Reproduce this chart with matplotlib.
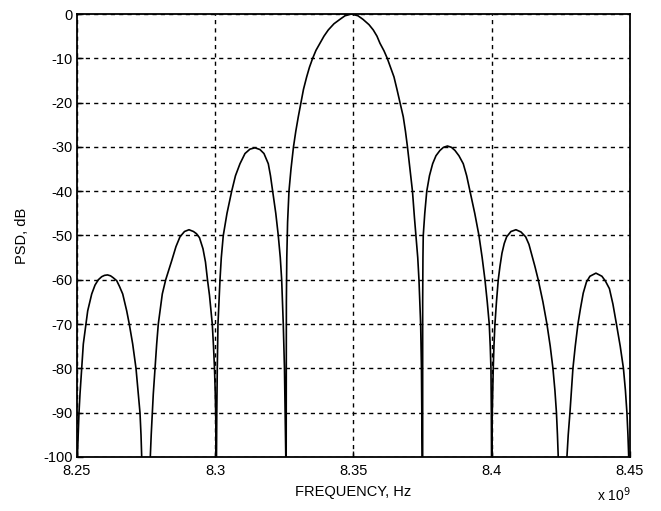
import matplotlib
matplotlib.use("Agg")
import matplotlib.pyplot as plt

# Frequency in units of 1e9 Hz, PSD in dB.
# Values of -130 mark nulls that dive below the visible range.
freq_ghz = [
    # lobe 1
    8.25014, 8.25043, 8.25072, 8.25108, 8.25170, 8.25228, 8.25325, 8.25387,
    8.25532, 8.25651, 8.25770, 8.25893, 8.25995, 8.26103, 8.26212, 8.26302,
    8.26436, 8.26537, 8.26653, 8.26797, 8.26891, 8.27014, 8.27134, 8.27217,
    8.27278, 8.27315, 8.27340,
    8.27500,
    # lobe 2
    8.27651, 8.27684, 8.27723, 8.27759, 8.27821, 8.27882, 8.27940, 8.28085,
    8.28208, 8.28425, 8.28580, 8.28725, 8.28888, 8.29051, 8.29213, 8.29322,
    8.29430, 8.29557, 8.29647, 8.29720, 8.29792, 8.29846, 8.29893, 8.29937,
    8.29973, 8.29998, 8.30016, 8.30027, 8.30034,
    8.30040,
    # lobe 3
    8.30045, 8.30056, 8.30074, 8.30099, 8.30172, 8.30219, 8.30291, 8.30425,
    8.30595, 8.30732, 8.30895, 8.31076, 8.31257, 8.31438, 8.31618, 8.31763,
    8.31919, 8.31998, 8.32078, 8.32190, 8.32280, 8.32353, 8.32403, 8.32461,
    8.32504, 8.32530, 8.32552,
    8.32559,
    # main lobe
    8.32566, 8.32567, 8.32573, 8.32588, 8.32617, 8.32667, 8.32740, 8.32830,
    8.32913, 8.33004, 8.33101, 8.33192, 8.33307, 8.33409, 8.33524, 8.33644,
    8.33788, 8.33933, 8.34089, 8.34295, 8.34512, 8.34693, 8.34928, 8.35163,
    8.35343, 8.35561, 8.35716, 8.35850, 8.35958, 8.36103, 8.36222, 8.36338,
    8.36465, 8.36573, 8.36682, 8.36801, 8.36881, 8.36953, 8.37043, 8.37134,
    8.37206, 8.37260, 8.37325, 8.37369, 8.37430, 8.37459, 8.37485,
    8.37494,
    # lobe 4
    8.37503, 8.37503, 8.37503, 8.37513, 8.37524, 8.37579, 8.37651, 8.37749,
    8.37864, 8.37984, 8.38128, 8.38255, 8.38400, 8.38544, 8.38671, 8.38815,
    8.38971, 8.39094, 8.39213, 8.39387, 8.39539, 8.39655, 8.39756, 8.39839,
    8.39911, 8.39947, 8.39973, 8.39987, 8.39994,
    8.40000,
    # lobe 5
    8.40005, 8.40020, 8.40056, 8.40081, 8.40117, 8.40172, 8.40237, 8.40298,
    8.40371, 8.40454, 8.40541, 8.40696, 8.40877, 8.41058, 8.41228, 8.41347,
    8.41456, 8.41564, 8.41683, 8.41853, 8.41998, 8.42117, 8.42215, 8.42287,
    8.42342, 8.42378, 8.42407,
    8.42500,
    # lobe 6
    8.42721, 8.42768, 8.42830, 8.42884, 8.42938, 8.43022, 8.43119, 8.43210,
    8.43311, 8.43427, 8.43553, 8.43770, 8.43987, 8.44114, 8.44258, 8.44385,
    8.44512, 8.44649, 8.44765, 8.44837, 8.44891, 8.44928, 8.44956,
]

psd_db = [
    # lobe 1
    -100, -95, -90, -85.8, -80, -74.5, -70, -67,
    -63.2, -61.2, -60, -59.3, -59.0, -58.9, -59.1, -59.5,
    -60.2, -61.5, -63.2, -67, -70, -74.5, -80, -85.8,
    -90, -95, -100,
    -130,
    # lobe 2
    -100, -95, -90, -85.8, -80, -74.5, -70, -63.2,
    -60, -55.7, -52.5, -50.3, -49.1, -48.7, -49.1, -49.6,
    -50.5, -53, -56, -60, -63.5, -67, -70, -75,
    -80, -85, -90, -95, -100,
    -130,
    # lobe 3
    -100, -90, -80, -70, -60, -55, -50, -45,
    -40, -36.5, -33.8, -31.5, -30.5, -30.2, -30.6, -31.5,
    -33.8, -36.5, -40, -45, -50, -55, -60, -70,
    -80, -90, -100,
    -130,
    # main lobe
    -100, -80, -65, -55, -47, -40, -35, -30,
    -26.5, -23.2, -20, -17, -14.2, -12, -10, -8.2,
    -6.6, -5, -3.6, -2.2, -1.2, -0.4, 0.0, -0.4,
    -1.2, -2.4, -3.6, -5, -6.6, -8.3, -10, -12,
    -14.2, -17, -20, -23.2, -26.5, -30, -35, -40,
    -46, -50, -55, -60, -70, -80, -100,
    -130,
    # lobe 4
    -100, -80, -65, -55, -50, -45, -40, -36.5,
    -33.8, -32, -30.8, -30.1, -29.8, -30.1, -30.8, -32,
    -33.8, -36.5, -40, -45, -50, -55, -60, -65,
    -70, -75, -80, -90, -100,
    -130,
    # lobe 5
    -100, -90, -80, -75, -70, -65, -60, -57,
    -54, -51.8, -50.3, -49.1, -48.7, -49.2, -50.3, -52,
    -54.5, -57, -60, -65, -70, -75, -80, -85,
    -90, -95, -100,
    -130,
    # lobe 6
    -100, -95, -90, -85, -80, -75, -70, -66.5,
    -63, -60.5, -59.2, -58.5, -59.2, -60.3, -62, -65.5,
    -70, -75, -80, -85, -90, -95, -100,
]

x_ticks = [8.25, 8.3, 8.35, 8.4, 8.45]
x_tick_labels = ["8.25", "8.3", "8.35", "8.4", "8.45"]
y_ticks = [0, -10, -20, -30, -40, -50, -60, -70, -80, -90, -100]
y_tick_labels = [str(v) for v in y_ticks]

plt.rcParams["font.family"] = ["Liberation Sans", "DejaVu Sans"]

fig = plt.figure(figsize=(6.61, 5.11), dpi=100)
ax = fig.add_axes([0.1165, 0.1057, 0.8365, 0.8669])

ax.plot(freq_ghz, psd_db, color="black", linewidth=1.2,
        solid_joinstyle="round", solid_capstyle="round")

ax.set_xlim(8.25, 8.45)
ax.set_ylim(-100, 0)
ax.set_xticks(x_ticks)
ax.set_xticklabels(x_tick_labels)
ax.set_yticks(y_ticks)
ax.set_yticklabels(y_tick_labels)

ax.grid(True, color="black", linestyle=(0, (3, 3)), linewidth=1.0)
ax.set_axisbelow(False)
for s in ax.spines.values():
    s.set_linewidth(1.3)
    s.set_color("black")

ax.tick_params(direction="in", length=4, width=1, labelsize=10.5,
               colors="black")
ax.tick_params(axis="y", pad=3)
ax.tick_params(axis="x", pad=5)

ax.set_xlabel("FREQUENCY, Hz", fontsize=10.5, labelpad=5)
ax.set_ylabel("PSD, dB", fontsize=10.5, labelpad=10)

fig.text(0.903, 0.014, r"x 10$^9$", fontsize=10, ha="left", va="bottom")

fig.savefig("out.png", dpi=100, facecolor="white")
